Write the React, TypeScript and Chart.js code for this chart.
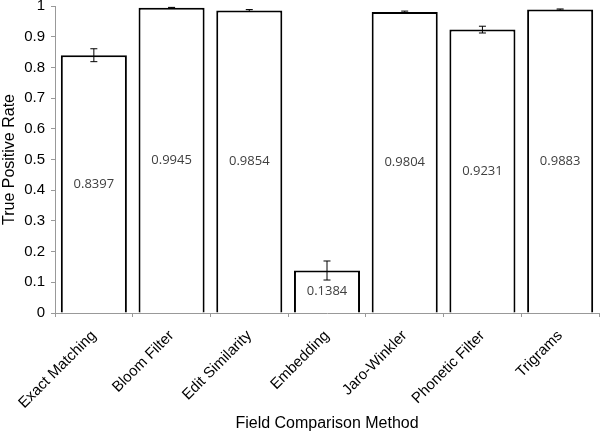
import React, { useEffect, useRef } from "react";
import { Chart, registerables } from "chart.js";

Chart.register(...registerables);

const categories = ["Exact Matching", "Bloom Filter", "Edit Similarity", "Embedding", "Jaro-Winkler", "Phonetic Filter", "Trigrams"];
const values = [0.8397, 0.9945, 0.9854, 0.1384, 0.9804, 0.9231, 0.9883];
const errors = [0.021, 0.001, 0.003, 0.031, 0.003, 0.011, 0.002];
const valueLabels = ["0.8397", "0.9945", "0.9854", "0.1384", "0.9804", "0.9231", "0.9883"];

const extrasPlugin = {
  id: "extras",
  afterDatasetsDraw(chart: any) {
    const ctx = chart.ctx;
    const meta = chart.getDatasetMeta(0);
    const y = chart.scales.y;
    ctx.save();
    meta.data.forEach((bar: any, i: number) => {
      const x = bar.x;
      const v = values[i];
      const e = errors[i];
      const yc = y.getPixelForValue(v / 2);
      ctx.fillStyle = "#404040";
      ctx.font = "13px 'Open Sans', 'Noto Sans', sans-serif";
      ctx.textAlign = "center";
      ctx.textBaseline = "middle";
      ctx.fillText(valueLabels[i], x, yc);
      const yt = y.getPixelForValue(v + e);
      const yb = y.getPixelForValue(v - e);
      ctx.strokeStyle = "#000";
      ctx.lineWidth = 1;
      ctx.beginPath();
      ctx.moveTo(x, yt);
      ctx.lineTo(x, yb);
      ctx.moveTo(x - 3.5, yt);
      ctx.lineTo(x + 3.5, yt);
      ctx.moveTo(x - 3.5, yb);
      ctx.lineTo(x + 3.5, yb);
      ctx.stroke();
    });
    ctx.restore();
  },
};

const FONT = "'Liberation Sans', Arial, sans-serif";

export default function App() {
  const ref = useRef<HTMLCanvasElement>(null);
  useEffect(() => {
    document.body.style.margin = "0";
    const chart = new Chart(ref.current!, {
      type: "bar",
      data: {
        labels: categories,
        datasets: [
          {
            data: values,
            backgroundColor: "#ffffff",
            borderColor: "#000000",
            borderWidth: 2,
            barPercentage: 0.85,
            categoryPercentage: 1,
          },
        ],
      },
      options: {
        animation: false,
        responsive: false,
        layout: { padding: { top: 0, right: 1, left: 0, bottom: 0 } },
        plugins: { legend: { display: false }, tooltip: { enabled: false } },
        scales: {
          x: {
            grid: { drawOnChartArea: false, drawTicks: true, tickLength: 4, color: "#999" },
            border: { color: "#999", width: 1 },
            ticks: {
              color: "#000",
              font: { family: FONT, size: 15 },
              maxRotation: 45,
              minRotation: 45,
              padding: 10,
            },
            title: {
              display: true,
              text: "Field Comparison Method",
              color: "#000",
              font: { family: FONT, size: 16 },
              padding: { top: 4, bottom: 2 },
            },
            afterFit(scale: any) {
              scale.height = 122;
            },
          },
          y: {
            min: 0,
            max: 1,
            grid: { drawOnChartArea: false, drawTicks: true, tickLength: 4, color: "#999" },
            border: { color: "#999", width: 1 },
            ticks: {
              stepSize: 0.1,
              color: "#000",
              font: { family: FONT, size: 15 },
              padding: 6,
              callback: (v: any) => String(Math.round(Number(v) * 10) / 10),
            },
            title: {
              display: true,
              text: "True Positive Rate",
              color: "#000",
              font: { family: FONT, size: 16 },
              padding: { top: 0, bottom: 2 },
            },
            afterFit(scale: any) {
              scale.width = 55;
              scale.paddingTop = 6;
              scale.paddingBottom = 0;
            },
          },
        },
      },
      plugins: [extrasPlugin],
    });
    return () => chart.destroy();
  }, []);
  return (
    <div style={{ width: 600, height: 435 }}>
      <canvas ref={ref} width={600} height={435} style={{ display: "block" }} />
    </div>
  );
}
